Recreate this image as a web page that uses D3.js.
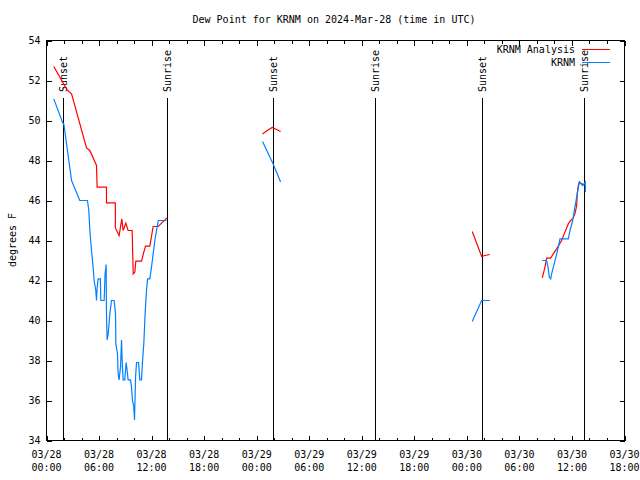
<!DOCTYPE html>
<html><head><meta charset="utf-8">
<script src="https://cdn.jsdelivr.net/npm/d3@7"></script>
<style>
body{margin:0;background:#fff;}
text{font-family:"DejaVu Sans Mono",monospace;font-size:10px;fill:#000;}
</style></head><body>
<svg id="c" width="640" height="480"></svg>
<script>
// Hours since 2024-03-28 00:00 UTC; null marks a gap
const analysisHours = [0.83,2.35,2.86,4.57,4.95,5.71,5.78,6.85,6.85,7.86,7.86,8.29,8.6,8.75,9.06,9.32,9.78,9.9,10.09,10.2,10.85,11.11,11.31,11.8,12.18,12.75,13.77,
  null,24.67,25.2,25.77,26.27,26.73,
  null,48.61,49.69,50.06,50.63,
  null,56.61,56.92,57.11,57.56,57.87,58.25,58.82,59.2,59.58,59.85,60.08,60.34,60.54,60.6,60.73,60.85,61.12,61.3,61.42];
const analysisValues = [52.7,51.53,51.33,48.63,48.5,47.75,46.67,46.67,45.88,45.88,44.63,44.25,45.08,44.5,44.87,44.5,44.5,42.33,42.42,42.97,42.97,43.42,43.72,43.72,44.7,44.7,45.13,
  null,49.33,49.5,49.65,49.55,49.45,
  null,44.45,43.2,43.25,43.3,
  null,42.13,42.67,43.12,43.12,43.33,43.58,44.0,44.42,44.83,45.0,45.08,45.33,45.75,46.33,46.75,46.92,46.83,46.8,46.83];

const obsHours = [0.83,1.83,1.98,2.86,3.8,4.68,4.83,4.95,5.14,5.32,5.44,5.63,5.71,5.78,5.89,6.15,6.2,6.58,6.69,6.81,6.85,6.92,7.04,7.15,7.23,7.42,7.72,7.88,7.92,8.11,8.18,8.29,8.45,8.57,8.64,8.75,8.94,9.09,9.21,9.32,9.59,9.71,9.82,9.97,10.05,10.17,10.28,10.51,10.66,10.85,10.97,11.11,11.26,11.42,11.54,11.8,11.99,12.18,12.37,12.56,12.77,13.71,
  null,24.67,25.88,26.73,
  null,48.61,49.69,50.63,
  null,56.61,57.11,57.3,57.41,57.57,57.68,57.87,58.17,58.44,58.63,59.58,59.78,60.08,60.34,60.54,60.73,60.85,61.04,61.23,61.38,61.52,61.53];
const obsValues = [51.08,49.9,49.83,47.0,46.0,46.0,45.5,44.5,43.5,42.67,42.0,41.5,41.0,41.6,42.08,42.08,41.0,41.0,42.33,42.8,40.35,39.03,39.33,39.85,40.33,41.0,41.0,40.33,38.83,38.33,37.33,37.03,37.67,39.03,38.0,37.03,37.03,37.9,37.5,37.03,37.03,36.67,36.0,35.67,35.03,37.17,37.9,37.9,37.03,37.03,38.0,38.83,40.33,41.5,42.08,42.08,42.67,43.33,44.0,44.5,45.0,45.0,
  null,48.95,47.83,46.92,
  null,39.95,41.0,41.0,
  null,43.0,43.0,42.58,42.17,42.08,42.33,42.67,43.17,43.67,44.08,44.08,44.5,45.0,45.67,46.17,46.67,46.92,46.83,46.75,46.83,46.92,46.42];

const sunEventHours = [1.9,13.71,25.88,37.52,49.76,61.34];
const sunEventLabels = ["Sunset","Sunrise","Sunset","Sunrise","Sunset","Sunrise"];
const yTicks = [34,36,38,40,42,44,46,48,50,52,54];
const seriesNames = ["KRNM Analysis","KRNM"];
const seriesColors = ["#ff0000","#0080ff"];
const titleText = "Dew Point for KRNM on 2024-Mar-28 (time in UTC)";
const yLabel = "degrees F";

const t0 = Date.UTC(2024,2,28,0,0);
const toDate = h => new Date(t0 + h*3600e3);

const L=46.5, R=624.5, T=40.5, B=440.5;
const svg = d3.select("#c");
const x = d3.scaleUtc().domain([toDate(0), toDate(66)]).range([L,R]);
const y = d3.scaleLinear().domain([34,54]).range([B,T]);

const major = d3.range(0,67,6).map(toDate);
const minor = d3.range(0,67,2).filter(h=>h%6!==0).map(toDate);

function axisG(axis, tr){
  const g = svg.append("g").attr("transform",tr).call(axis);
  g.select(".domain").remove();
  g.selectAll("line").attr("stroke","#000").attr("shape-rendering","crispEdges");
  return g;
}
axisG(d3.axisBottom(x).tickValues(major).tickSizeInner(-5).tickSizeOuter(0).tickFormat(""),`translate(0,${B})`);
axisG(d3.axisBottom(x).tickValues(minor).tickSizeInner(-3).tickSizeOuter(0).tickFormat(""),`translate(0,${B})`);
axisG(d3.axisTop(x).tickValues(major).tickSizeInner(-5).tickSizeOuter(0).tickFormat(""),`translate(0,${T})`);
axisG(d3.axisTop(x).tickValues(minor).tickSizeInner(-3).tickSizeOuter(0).tickFormat(""),`translate(0,${T})`);
const yl = axisG(d3.axisLeft(y).tickValues(yTicks).tickSizeInner(-5).tickSizeOuter(0).tickPadding(6),`translate(${L},0)`);
yl.selectAll("text").style("font-family",'"DejaVu Sans Mono",monospace').style("font-size","10px");
axisG(d3.axisRight(y).tickValues(yTicks).tickSizeInner(-5).tickSizeOuter(0).tickFormat(""),`translate(${R},0)`);

// x labels, two lines
const fmtD = d3.utcFormat("%m/%d"), fmtH = d3.utcFormat("%H:%M");
const xl = svg.append("g");
major.forEach(d=>{
  const t = xl.append("text").attr("text-anchor","middle");
  t.append("tspan").attr("x",x(d)).attr("y",458).text(fmtD(d));
  t.append("tspan").attr("x",x(d)).attr("y",471).text(fmtH(d));
});

// frame
svg.append("rect").attr("x",L).attr("y",T).attr("width",R-L).attr("height",B-T)
  .attr("fill","none").attr("stroke","#000").attr("shape-rendering","crispEdges");

// sun events
sunEventHours.forEach((h,i)=>{
  const xx = Math.round(x(toDate(h)))+0.5;
  svg.append("line").attr("x1",xx).attr("x2",xx).attr("y1",98).attr("y2",B)
    .attr("stroke","#000").attr("shape-rendering","crispEdges");
  svg.append("text").attr("transform",`translate(${xx},92) rotate(-90)`)
    .attr("dy","0.35em").attr("text-anchor","start").text(sunEventLabels[i]);
});

// series
function draw(hours, values, color){
  const pts = hours.map((h,i)=>[h, values[i]]);
  const line = d3.line().defined(d=>d[0]!==null && d[1]!==null)
    .x(d=>x(toDate(d[0]))).y(d=>y(d[1]));
  svg.append("path").datum(pts).attr("d",line).attr("fill","none")
    .attr("stroke",color).attr("stroke-width",1.2);
}
draw(analysisHours, analysisValues, seriesColors[0]);
draw(obsHours, obsValues, seriesColors[1]);

// legend
seriesNames.forEach((n,i)=>{
  const yy = 49.5 + i*13;
  svg.append("text").attr("x",575).attr("y",yy).attr("dy","0.35em").attr("text-anchor","end").text(n);
  svg.append("line").attr("x1",582).attr("x2",610).attr("y1",yy).attr("y2",yy)
    .attr("stroke",seriesColors[i]).attr("shape-rendering","crispEdges");
});

// title & y label
svg.append("text").attr("x",334).attr("y",19).attr("dy","0.35em").attr("text-anchor","middle").text(titleText);
svg.append("text").attr("transform","translate(12,240) rotate(-90)").attr("dy","0.35em").attr("text-anchor","middle").text(yLabel);
</script>
</body></html>
